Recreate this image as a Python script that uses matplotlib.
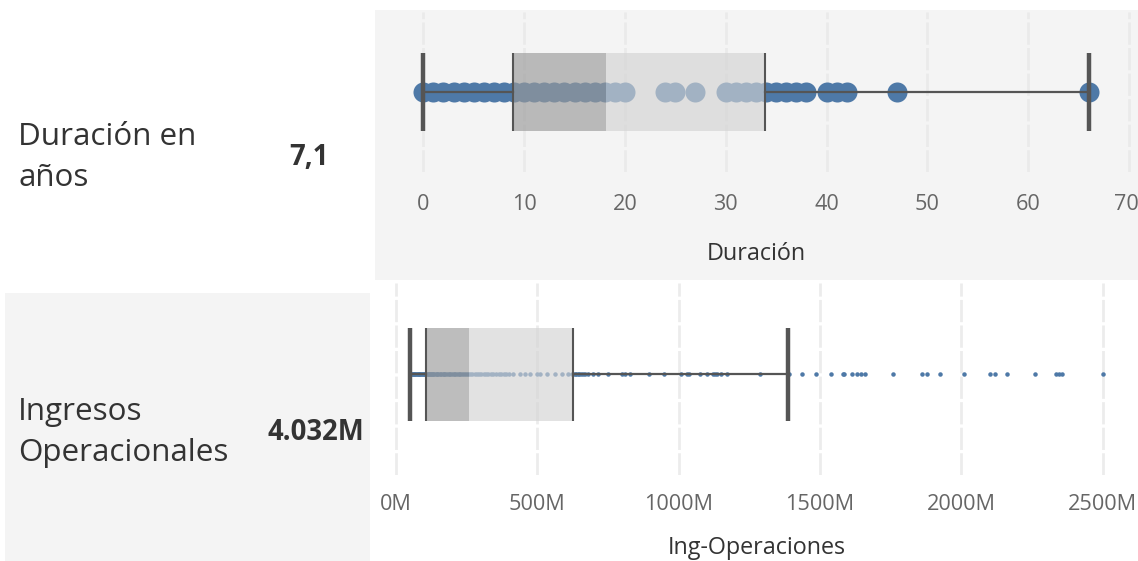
import matplotlib.pyplot as plt
from matplotlib.patches import Rectangle
from matplotlib.transforms import ScaledTranslation

plt.rcParams['font.family'] = ['Open Sans', 'DejaVu Sans']

W, H = 1138, 561

# ── Data ───────────────────────────────────────────────────────────────────
labels = ["Duración en\naños", "Ingresos\nOperacionales"]
kpis = ["7,1", "4.032M"]
axis_titles = ["Duración", "Ing-Operaciones"]

dur_values = [0, 1, 2, 3, 4, 5, 6, 7, 8, 9, 10, 11, 12, 13, 14, 15, 16, 17,
              18, 19, 20, 24, 25, 27, 30, 31, 32, 33, 34, 35, 36, 37, 38,
              40, 41, 42, 47, 66]
# lower whisker, Q1, median, Q3, upper whisker
dur_stats = [0, 8.9, 18.1, 33.9, 66.0]
dur_ticks = [0, 10, 20, 30, 40, 50, 60, 70]
dur_ticklabels = ["0", "10", "20", "30", "40", "50", "60", "70"]

ing_values = [50, 53, 56, 59, 62, 65, 68, 71, 74, 77, 80, 83, 86, 89, 92, 95,
              98, 101, 104, 108, 112, 116, 120, 124, 128, 132, 136, 140, 145,
              150, 155, 160, 165, 170, 175, 180, 186, 192, 198, 204, 210, 216,
              222, 228, 235, 242, 249, 256, 263, 270, 278, 286, 294, 302, 310,
              318, 327, 336, 345, 354, 363, 372, 381, 390, 400, 415, 440, 458,
              475, 498, 508, 535, 563, 588, 610, 622, 628, 633, 638, 643, 648,
              655, 662, 670, 678, 697, 715, 750, 800, 810, 828, 895, 948, 1008,
              1030, 1036, 1076, 1100, 1122, 1130, 1136, 1150, 1171, 1288, 1391,
              1437, 1486, 1539, 1580, 1584, 1614, 1631, 1645, 1660, 1759, 1861,
              1879, 1925, 2010, 2102, 2120, 2162, 2261, 2335, 2346, 2357, 2502]
ing_stats = [49.5, 106, 257, 626, 1387]
ing_ticks = [0, 500, 1000, 1500, 2000, 2500]
ing_ticklabels = ["0M", "500M", "1000M", "1500M", "2000M", "2500M"]

DOT = "#4e79a7"
DARK = "#555555"
PANE = "#f4f4f4"


def fig_box(x0, y0, x1, y1):
    """pixel box (top-left origin) -> figure fraction rect"""
    return [x0 / W, 1 - y1 / H, (x1 - x0) / W, (y1 - y0) / H]


def draw_box(ax, values, stats, half, dot_size, grid_color):
    lo, q1, med, q3, hi = stats
    ax.scatter(values, [0] * len(values), s=dot_size, color=DOT,
               linewidths=0, zorder=2)
    ax.add_patch(Rectangle((q1, -half), med - q1, 2 * half, facecolor="#9a9a9a",
                           alpha=0.65, linewidth=0, zorder=3))
    ax.add_patch(Rectangle((med, -half), q3 - med, 2 * half, facecolor="#d3d3d3",
                           alpha=0.64, linewidth=0, zorder=3))
    ax.plot([lo, q1], [0, 0], color=DARK, lw=1.6, zorder=4)
    ax.plot([q3, hi], [0, 0], color=DARK, lw=1.6, zorder=4)
    ax.vlines([q1, q3], -half, half, color=DARK, lw=1.5, zorder=5)
    ax.vlines([lo, hi], -half, half, color=DARK, lw=3.2, zorder=5)
    for sp in ax.spines.values():
        sp.set_visible(False)
    ax.set_yticks([])
    ax.grid(axis="x", color=grid_color, linestyle=(0, (8, 1.2)), linewidth=2)
    ax.set_axisbelow(True)
    ax.tick_params(axis="x", length=0, labelsize=15.6, labelcolor="#666666")


fig = plt.figure(figsize=(W / 100, H / 100), dpi=100)
fig.patch.set_facecolor("white")

# pane backgrounds (behind the axes)
fig.patches.append(Rectangle(fig_box(375, 10, W, 280)[:2], (W - 375) / W, 270 / H,
                             transform=fig.transFigure, facecolor=PANE,
                             linewidth=0, zorder=-5))
fig.patches.append(Rectangle(fig_box(5, 293, 370, H)[:2], 365 / W, (H - 293) / H,
                             transform=fig.transFigure, facecolor=PANE,
                             linewidth=0, zorder=-5))

# ── Top: Duración ──────────────────────────────────────────────────────────
ax1 = fig.add_axes(fig_box(375, 12, W, 172))
ax1.patch.set_alpha(0)
draw_box(ax1, dur_values, dur_stats, 0.49, 20 ** 2 * 0.52, "#eaeaea")
ax1.set_xlim((375 - 423.3) / 10.08, (W - 423.3) / 10.08)
ax1.set_ylim(-1, 1)
ax1.set_xticks(dur_ticks)
ax1.set_xticklabels(dur_ticklabels)
ax1.tick_params(axis="x", pad=16)
ax1.set_xlabel(axis_titles[0], fontsize=16.8, color="#333333", labelpad=19)
# keep the last label inside the canvas
last = ax1.get_xticklabels()[-1]
last.set_transform(last.get_transform() + ScaledTranslation(-3 / 100, 0, fig.dpi_scale_trans))

# ── Bottom: Ingresos ───────────────────────────────────────────────────────
ax2 = fig.add_axes(fig_box(375, 283, W, 475))
ax2.patch.set_alpha(0)
draw_box(ax2, ing_values, ing_stats, 0.484, 4.5 ** 2 * 0.52, "#ececec")
ax2.set_xlim((375 - 396) / 0.2826, (W - 396) / 0.2826)
ax2.set_ylim(-1.05, 0.95)
ax2.set_xticks(ing_ticks)
ax2.set_xticklabels(ing_ticklabels)
ax2.tick_params(axis="x", pad=14)
ax2.set_xlabel(axis_titles[1], fontsize=16.8, color="#333333", labelpad=15)

# ── Row headers ────────────────────────────────────────────────────────────
for lab, kpi, yc, kx in zip(labels, kpis, [157.5, 432.5], [309, 316]):
    fig.text(18 / W, 1 - yc / H, lab, ha="left", va="center", fontsize=22.6,
             color="#333333", linespacing=1.5)
    fig.text(kx / W, 1 - yc / H, kpi, ha="center", va="center", fontsize=19.8,
             fontweight="bold", color="#333333")

fig.savefig("out.png", dpi=100, facecolor="white")
